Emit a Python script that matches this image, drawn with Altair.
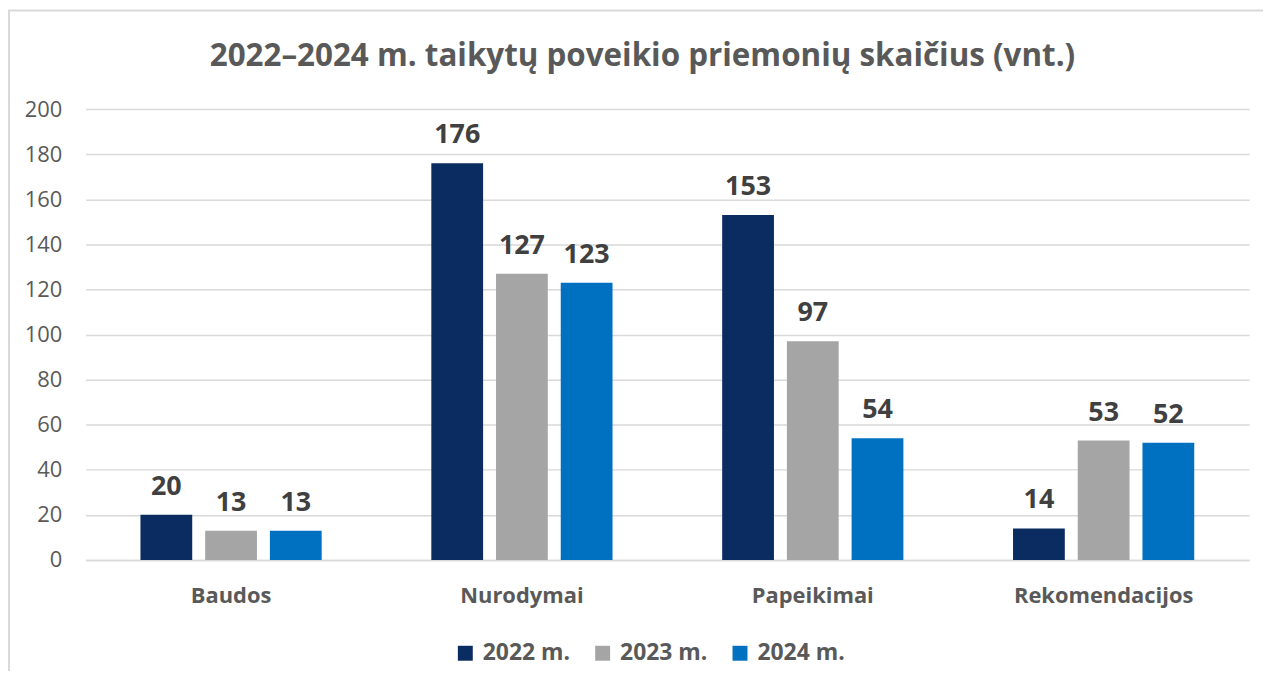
import altair as alt
import pandas as pd

categories = ["Baudos", "Nurodymai", "Papeikimai", "Rekomendacijos"]
years = ["2022 m.", "2023 m.", "2024 m."]
v2022 = [20, 176, 153, 14]
v2023 = [13, 127, 97, 53]
v2024 = [13, 123, 54, 52]
colors = ["#0B2C61", "#A5A5A5", "#0070C0"]
y_ticks = [0, 20, 40, 60, 80, 100, 120, 140, 160, 180, 200]

rows = []
for yr, vals in zip(years, [v2022, v2023, v2024]):
    for c, v in zip(categories, vals):
        rows.append({"kategorija": c, "metai": yr, "reiksme": v})
df = pd.DataFrame(rows)

FONT = "Open Sans"

base = alt.Chart(df).encode(
    x=alt.X("kategorija:N", sort=categories, title=None,
            scale=alt.Scale(paddingInner=0.377, paddingOuter=0.1885),
            axis=alt.Axis(labelAngle=0, labelFontSize=22, labelFontWeight="bold",
                          labelColor="#595959", labelFont=FONT, labelPadding=26,
                          labelLimit=400,
                          ticks=False, domainColor="#D9D9D9", domainWidth=1.5,
                          grid=False)),
    xOffset=alt.XOffset("metai:N", sort=years,
                        scale=alt.Scale(paddingInner=0.2, paddingOuter=0)),
    y=alt.Y("reiksme:Q", title=None,
            scale=alt.Scale(domain=[0, 200], nice=False),
            axis=alt.Axis(values=y_ticks, labelFontSize=22, labelColor="#595959",
                          labelFont=FONT, labelPadding=24, ticks=False, domain=False,
                          gridColor="#D9D9D9", gridWidth=1.5)),
)

bars = base.mark_bar().encode(
    color=alt.Color("metai:N", sort=years,
                    scale=alt.Scale(domain=years, range=colors),
                    legend=alt.Legend(title=None, orient="none", direction="horizontal",
                                      legendX=370, legendY=535,
                                      symbolType="square", symbolSize=225,
                                      symbolStrokeWidth=0, symbolOpacity=1,
                                      labelFontSize=23, labelFontWeight="bold",
                                      labelColor="#595959", labelFont=FONT,
                                      columnPadding=21, labelOffset=6))
)

labels = base.mark_text(baseline="alphabetic", dy=-20, fontSize=27,
                        fontWeight="bold", color="#404040", font=FONT).encode(
    text=alt.Text("reiksme:Q")
)

border = alt.Chart(pd.DataFrame({"a": [0]})).mark_rect(
    fill=None, stroke="#D9D9D9", strokeWidth=2
).encode(
    x=alt.value(-77), y=alt.value(-99), x2=alt.value(1300), y2=alt.value(700)
)

chart = alt.layer(border, bars, labels).properties(
    width=1169, height=453,
    title=alt.TitleParams("2022–2024 m. taikytų poveikio priemonių skaičius (vnt.)",
                          fontSize=31.5, fontWeight="bold", color="#595959",
                          font=FONT, anchor="middle", dx=-25, offset=-63),
    padding={"left": 78, "top": 100, "right": 14, "bottom": 110},
    autosize=alt.AutoSizeParams(type="none"),
).configure(background="white").configure_view(stroke=None)

chart.save("out.html", embed_options={"renderer": "svg", "actions": False})
